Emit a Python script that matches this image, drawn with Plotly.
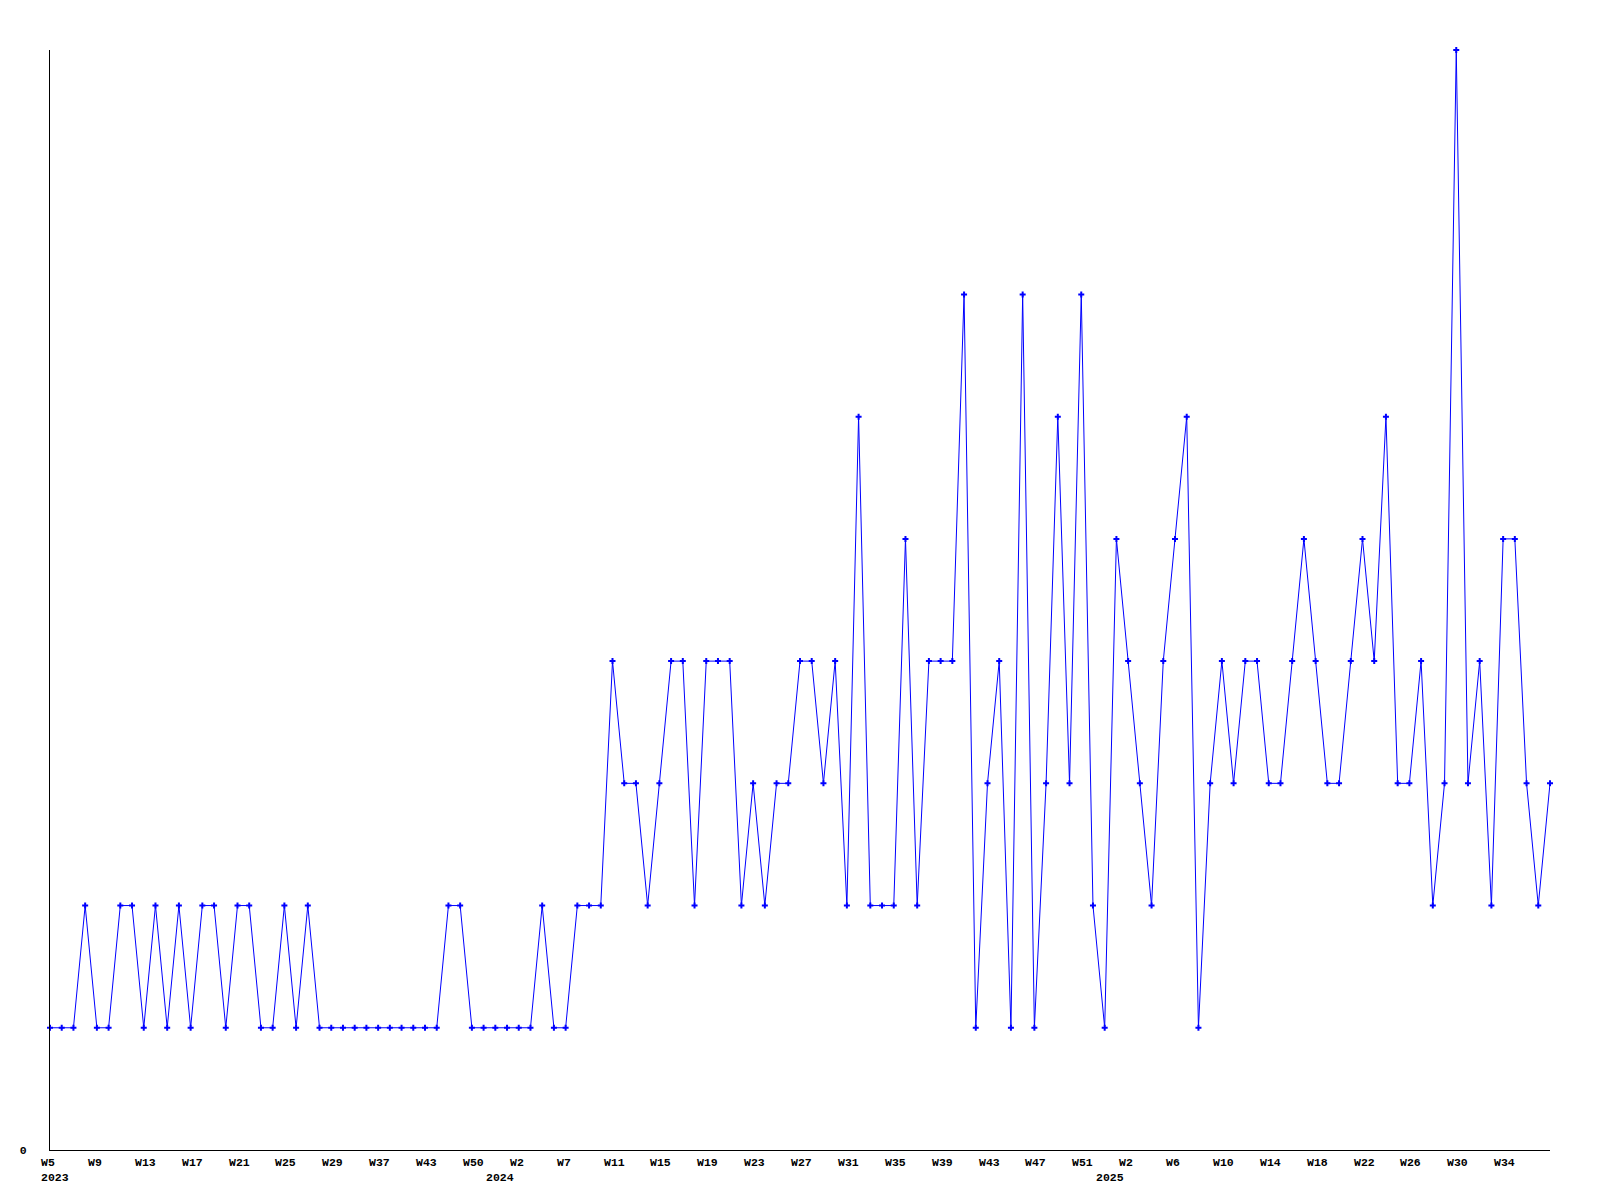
import plotly.graph_objects as go

# Weekly values (one per plotted week, evenly spaced categories)
values = [
    1, 1, 1, 2, 1, 1, 2, 2, 1, 2,
    1, 2, 1, 2, 2, 1, 2, 2, 1, 1,
    2, 1, 2, 1, 1, 1, 1, 1, 1, 1,
    1, 1, 1, 1, 2, 2, 1, 1, 1, 1,
    1, 1, 2, 1, 1, 2, 2, 2, 4, 3,
    3, 2, 3, 4, 4, 2, 4, 4, 4, 2,
    3, 2, 3, 3, 4, 4, 3, 4, 2, 6,
    2, 2, 2, 5, 2, 4, 4, 4, 7, 1,
    3, 4, 1, 7, 1, 3, 6, 3, 7, 2,
    1, 5, 4, 3, 2, 4, 5, 6, 1, 3,
    4, 3, 4, 4, 3, 3, 4, 5, 4, 3,
    3, 4, 5, 4, 6, 3, 3, 4, 2, 3,
    9, 3, 4, 2, 5, 5, 3, 2, 3,
]

# Tick labels, one every 4th point
tick_labels = [
    "W5", "W9", "W13", "W17", "W21", "W25", "W29", "W37", "W43", "W50",
    "W2", "W7", "W11", "W15", "W19", "W23", "W27", "W31", "W35", "W39",
    "W43", "W47", "W51", "W2", "W6", "W10", "W14", "W18", "W22", "W26",
    "W30", "W34",
]
tick_step = 4

# Year labels and the index of the point where each year begins
year_labels = ["2023", "2024", "2025"]
year_start_index = [0, 38, 90]

x_idx = list(range(len(values)))
BLUE = "#0000ff"
FONT = dict(family="Liberation Mono, DejaVu Sans Mono, monospace", size=11.5, color="black")

fig = go.Figure()
fig.add_trace(go.Scatter(
    x=x_idx, y=values, mode="lines+markers",
    line=dict(color=BLUE, width=1),
    marker=dict(symbol="cross", size=5, color=BLUE, line=dict(width=0)),
    cliponaxis=False, hoverinfo="skip", showlegend=False,
))

annotations = []
for k, lab in enumerate(tick_labels):
    annotations.append(dict(
        x=k * tick_step, y=0, xref="x", yref="paper",
        text="<b>%s</b>" % lab, showarrow=False,
        xanchor="left", yanchor="top", xshift=-11, yshift=-4,
        font=FONT,
    ))
for lab, idx in zip(year_labels, year_start_index):
    annotations.append(dict(
        x=idx, y=0, xref="x", yref="paper",
        text="<b>%s</b>" % lab, showarrow=False,
        xanchor="left", yanchor="top", xshift=-11, yshift=-19,
        font=FONT,
    ))

# The page body has an 8px margin, so the figure is sized/margined to compensate.
fig.update_layout(
    width=1584, height=1184,
    margin=dict(l=42, r=42, t=42, b=42),
    paper_bgcolor="white", plot_bgcolor="white",
    annotations=annotations,
    xaxis=dict(
        range=[0, len(values) - 1], showgrid=False, zeroline=False,
        showline=True, linecolor="black", linewidth=1,
        showticklabels=False, ticks="",
    ),
    yaxis=dict(
        range=[0, 9], showgrid=False, zeroline=False,
        showline=True, linecolor="black", linewidth=1,
        tickmode="array", tickvals=[0], ticktext=["<b>0</b>"],
        ticks="outside", ticklen=20, tickcolor="rgba(0,0,0,0)",
        tickfont=FONT,
    ),
)

fig.write_html("out.html", config={"displayModeBar": False})
